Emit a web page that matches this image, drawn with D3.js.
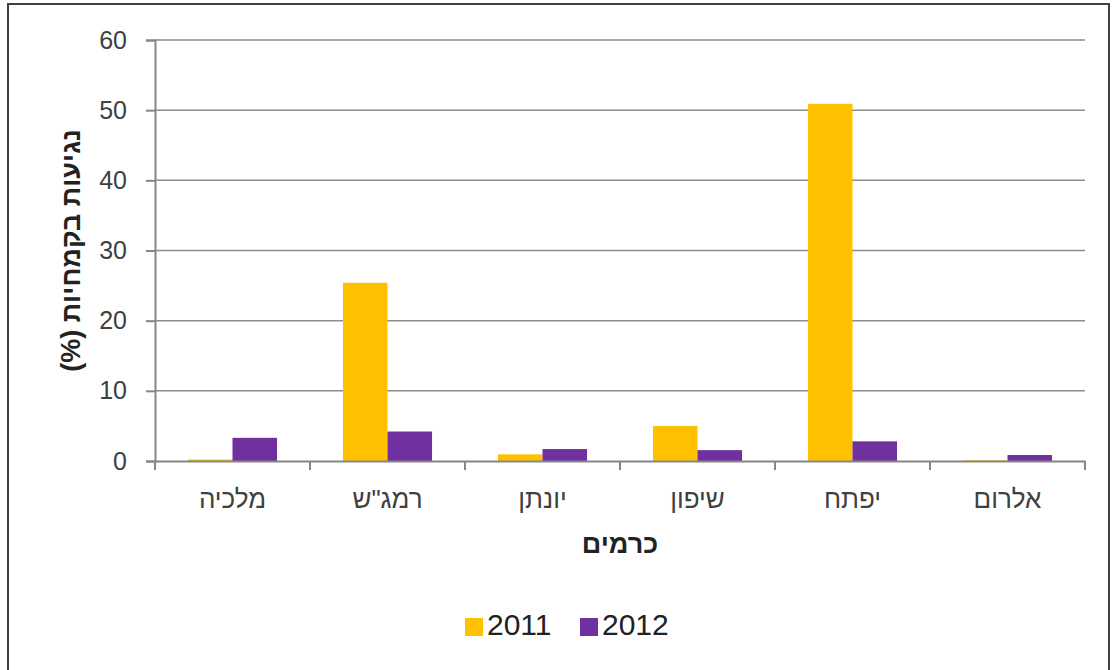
<!DOCTYPE html>
<html><head><meta charset="utf-8">
<script src="https://cdn.jsdelivr.net/npm/d3@7"></script>
<style>
body{margin:0;background:#fff;}
svg{display:block;font-family:"Liberation Sans",Arial,sans-serif;}
</style></head>
<body><svg id="c" width="1113" height="670"></svg>
<script>
const categories = ["מלכיה", "רמג\"ש", "יונתן", "שיפון", "יפתח", "אלרום"];
const seriesNames = ["2011", "2012"];
const values2011 = [0.2, 25.4, 0.95, 5.0, 50.9, 0.1];
const values2012 = [3.3, 4.2, 1.7, 1.55, 2.8, 0.85];
const yTicks = [0, 10, 20, 30, 40, 50, 60];
const colors = ["#FFC000", "#7030A0"];
const yTitle = "נגיעות בקמחיות (%)";
const xTitle = "כרמים";

(function () {
const svg = d3.select("#c");
svg.append("rect").attr("x", 8).attr("y", 4).attr("width", 1101).attr("height", 680)
  .attr("fill", "#fff").attr("stroke", "#404040").attr("stroke-width", 2);

const pL = 155, pR = 1085, pT = 40, pB = 461;
const x = d3.scaleBand().domain(categories).range([pL, pR]).paddingInner(0).paddingOuter(0);
const x1 = d3.scaleBand().domain(seriesNames).range([0, x.bandwidth()]).paddingOuter(0.74).paddingInner(0);
const y = d3.scaleLinear().domain([0, 60]).range([pB, pT]);

svg.append("g").selectAll("line").data(yTicks.filter(d => d > 0)).join("line")
  .attr("x1", pL).attr("x2", pR).attr("y1", d => y(d)).attr("y2", d => y(d))
  .attr("stroke", "#8c8c8c").attr("stroke-width", 1.5);

const data = categories.map((c, i) => ({c, vals: [values2011[i], values2012[i]]}));
const g = svg.append("g").selectAll("g").data(data).join("g")
  .attr("transform", d => `translate(${x(d.c)},0)`);
g.selectAll("rect").data(d => d.vals.map((v, j) => ({s: seriesNames[j], v, j}))).join("rect")
  .attr("x", d => x1(d.s)).attr("width", x1.bandwidth())
  .attr("y", d => y(d.v)).attr("height", d => y(0) - y(d.v))
  .attr("fill", d => colors[d.j]);

const yAxis = svg.append("g").attr("transform", `translate(${pL},0)`)
  .call(d3.axisLeft(y).tickValues(yTicks).tickSize(9).tickPadding(19));
yAxis.select(".domain").attr("stroke", "#868686").attr("stroke-width", 2);
yAxis.selectAll(".tick line").attr("stroke", "#868686").attr("stroke-width", 2);
yAxis.selectAll(".tick text").attr("font-size", 25).attr("fill", "#404040")
  .attr("font-family", "Liberation Sans, Arial, sans-serif");

const xAxis = svg.append("g").attr("transform", `translate(0,${pB})`)
  .call(d3.axisBottom(x).tickSize(0).tickPadding(29));
xAxis.select(".domain").attr("stroke", "#868686").attr("stroke-width", 2);
xAxis.selectAll(".tick text").attr("font-size", 26).attr("fill", "#404040")
  .attr("font-family", "Liberation Sans, Arial, sans-serif");
svg.append("g").selectAll("line").data(categories.concat(["_end"])).join("line")
  .attr("x1", (d, i) => i < categories.length ? x(d) : pR)
  .attr("x2", (d, i) => i < categories.length ? x(d) : pR)
  .attr("y1", pB).attr("y2", pB + 9)
  .attr("stroke", "#868686").attr("stroke-width", 2);

svg.append("text").attr("transform", `translate(80,${(pT + pB) / 2}) rotate(-90)`)
  .attr("text-anchor", "middle").attr("direction", "rtl")
  .attr("font-size", 27).attr("font-weight", "bold").attr("fill", "#222").text(yTitle);
svg.append("text").attr("x", (pL + pR) / 2).attr("y", 553)
  .attr("text-anchor", "middle").attr("font-size", 27).attr("font-weight", "bold")
  .attr("fill", "#222").text(xTitle);

const leg = svg.append("g");
const legX = [465, 580];
seriesNames.forEach((s, i) => {
  leg.append("rect").attr("x", legX[i]).attr("y", 618).attr("width", 18).attr("height", 18).attr("fill", colors[i]);
  leg.append("text").attr("x", legX[i] + 22).attr("y", 635).attr("font-size", 30)
    .attr("fill", "#222").text(s);
});
})();
</script></body></html>
